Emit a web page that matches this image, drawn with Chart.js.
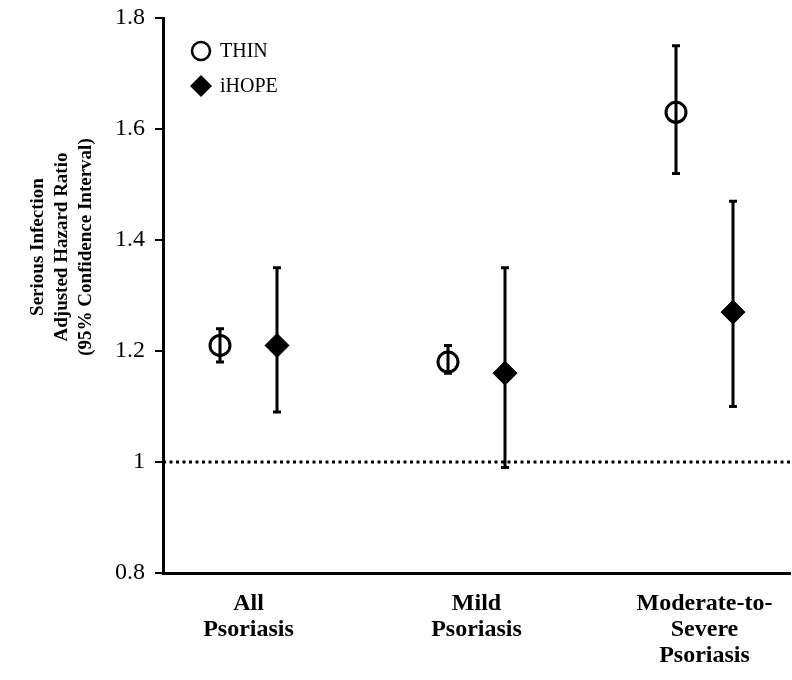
<!DOCTYPE html>
<html>
<head>
<meta charset="utf-8">
<script src="https://cdn.jsdelivr.net/npm/chart.js@4.4.1/dist/chart.umd.min.js"></script>
<style>
  html, body { margin: 0; padding: 0; background: #fff; overflow: hidden; }
  #wrap { width: 792px; height: 680px; position: relative; }
  canvas { display: block; }
</style>
</head>
<body>
<div id="wrap"><canvas id="hrChart"></canvas></div>
<script>
// categories on the x axis (multi-line labels) and where they sit
const groups = [['All', 'Psoriasis'], ['Mild', 'Psoriasis'], ['Moderate-to-', 'Severe', 'Psoriasis']];
const groupPos = [1, 2, 3];

// THIN: hazard ratio and 95% CI
const thinHR = [1.21, 1.18, 1.63];
const thinLow = [1.18, 1.16, 1.52];
const thinHigh = [1.24, 1.21, 1.75];

// iHOPE: hazard ratio and 95% CI
const ihopeHR = [1.21, 1.16, 1.27];
const ihopeLow = [1.09, 0.99, 1.10];
const ihopeHigh = [1.35, 1.35, 1.47];

// y axis ticks and the reference line
const yTicks = [0.8, 1, 1.2, 1.4, 1.6, 1.8];
const refValue = 1;
const yTitle = ['Serious Infection', 'Adjusted Hazard Ratio', '(95% Confidence Interval)'];
const seriesNames = ['THIN', 'iHOPE'];

const xMin = 0.625, xMax = 3.375;
const shift = 0.125; // THIN left, iHOPE right of the group centre

const serif = '"Liberation Serif", "Times New Roman", serif';

// Fehlerbalken (CI) hinter die Marker zeichnen
const errorBars = {
    id: 'errorBars',
    beforeDatasetsDraw(chart) {
        const ctx = chart.ctx;
        const y = chart.scales.y;
        chart.data.datasets.forEach((ds, di) => {
            if (!ds.lower) return;
            const meta = chart.getDatasetMeta(di);
            ctx.save();
            ctx.strokeStyle = '#000';
            ctx.lineWidth = 3;
            meta.data.forEach((pt, i) => {
                const top = y.getPixelForValue(ds.upper[i]);
                const bot = y.getPixelForValue(ds.lower[i]);
                ctx.beginPath();
                ctx.moveTo(pt.x, top);
                ctx.lineTo(pt.x, bot);
                ctx.moveTo(pt.x - 4, top);
                ctx.lineTo(pt.x + 4, top);
                ctx.moveTo(pt.x - 4, bot);
                ctx.lineTo(pt.x + 4, bot);
                ctx.stroke();
            });
            ctx.restore();
        });
    }
};

// Legende oben links im Plotbereich + y-Achsentitel
const extras = {
    id: 'extras',
    afterDraw(chart) {
        const ctx = chart.ctx;
        const area = chart.chartArea;
        ctx.save();
        const lx = area.left + 38;
        const ly1 = area.top + 33;
        const ly2 = area.top + 68;
        ctx.strokeStyle = '#000';
        ctx.fillStyle = '#000';
        ctx.lineWidth = 2.5;
        ctx.beginPath();
        ctx.arc(lx, ly1, 9, 0, Math.PI * 2);
        ctx.stroke();
        ctx.beginPath();
        ctx.moveTo(lx - 11, ly2);
        ctx.lineTo(lx, ly2 - 11);
        ctx.lineTo(lx + 11, ly2);
        ctx.lineTo(lx, ly2 + 11);
        ctx.closePath();
        ctx.fill();
        ctx.font = '20px ' + serif;
        ctx.textBaseline = 'middle';
        ctx.textAlign = 'left';
        ctx.fillText(seriesNames[0], lx + 19, ly1 + 1);
        ctx.fillText(seriesNames[1], lx + 19, ly2 + 1);

        // y title, three lines, rotated
        ctx.font = 'bold 19px ' + serif;
        ctx.textAlign = 'center';
        const cy = area.top + 229;
        yTitle.forEach((line, i) => {
            ctx.save();
            ctx.translate(area.left - 125 + i * 24, cy);
            ctx.rotate(-Math.PI / 2);
            ctx.fillText(line, 0, 0);
            ctx.restore();
        });
        ctx.restore();
    }
};

const ctx = document.getElementById('hrChart').getContext('2d');

const data = {
    datasets: [
        {
            type: 'scatter',
            label: seriesNames[0],
            data: thinHR.map((v, i) => ({ x: groupPos[i] - shift, y: v })),
            lower: thinLow,
            upper: thinHigh,
            pointStyle: 'circle',
            pointRadius: 10,
            borderWidth: 3,
            borderColor: '#000',
            backgroundColor: 'rgba(0,0,0,0)'
        },
        {
            type: 'scatter',
            label: seriesNames[1],
            data: ihopeHR.map((v, i) => ({ x: groupPos[i] + shift, y: v })),
            lower: ihopeLow,
            upper: ihopeHigh,
            pointStyle: 'rectRot',
            pointRadius: 12,
            borderWidth: 1,
            borderColor: '#000',
            backgroundColor: '#000'
        },
        {
            type: 'line',
            label: 'ref',
            data: [{ x: xMin, y: refValue }, { x: xMax, y: refValue }],
            borderColor: '#000',
            borderWidth: 3,
            borderDash: [3, 3.5],
            pointRadius: 0,
            fill: false
        }
    ]
};

const config = {
    type: 'scatter',
    data: data,
    options: {
        responsive: true,
        maintainAspectRatio: false,
        animation: false,
        layout: { autoPadding: false, padding: { left: 105, right: 2, top: 18, bottom: 11 } },
        plugins: {
            legend: { display: false },
            tooltip: { enabled: false }
        },
        scales: {
            x: {
                type: 'linear',
                min: xMin,
                max: xMax,
                afterBuildTicks: (scale) => { scale.ticks = groupPos.map(v => ({ value: v })); },
                afterFit: (scale) => { scale.paddingLeft = 0; scale.paddingRight = 0; },
                // unsichtbare Tick-Striche als Abstand zu den Labels
                grid: { display: true, drawOnChartArea: false, drawTicks: true, tickLength: 18, color: 'rgba(0,0,0,0)' },
                border: { display: true, color: '#000', width: 3 },
                ticks: {
                    color: '#000',
                    padding: 0,
                    maxRotation: 0,
                    autoSkip: false,
                    font: { family: serif, size: 24, weight: 'bold', lineHeight: '26px' },
                    callback: (v) => groups[groupPos.indexOf(v)]
                }
            },
            y: {
                min: 0.8,
                max: 1.8,
                afterBuildTicks: (scale) => { scale.ticks = yTicks.map(v => ({ value: v })); },
                afterFit: (scale) => { scale.paddingTop = 0; scale.paddingBottom = 0; },
                grid: { display: true, drawOnChartArea: false, drawTicks: true, tickLength: 8, color: '#000', lineWidth: 2 },
                border: { display: true, color: '#000', width: 3 },
                ticks: {
                    color: '#000',
                    padding: 10,
                    font: { family: serif, size: 24 },
                    callback: (v) => String(v)
                }
            }
        }
    },
    plugins: [errorBars, extras]
};

const hrChart = new Chart(ctx, config);
</script>
</body>
</html>
